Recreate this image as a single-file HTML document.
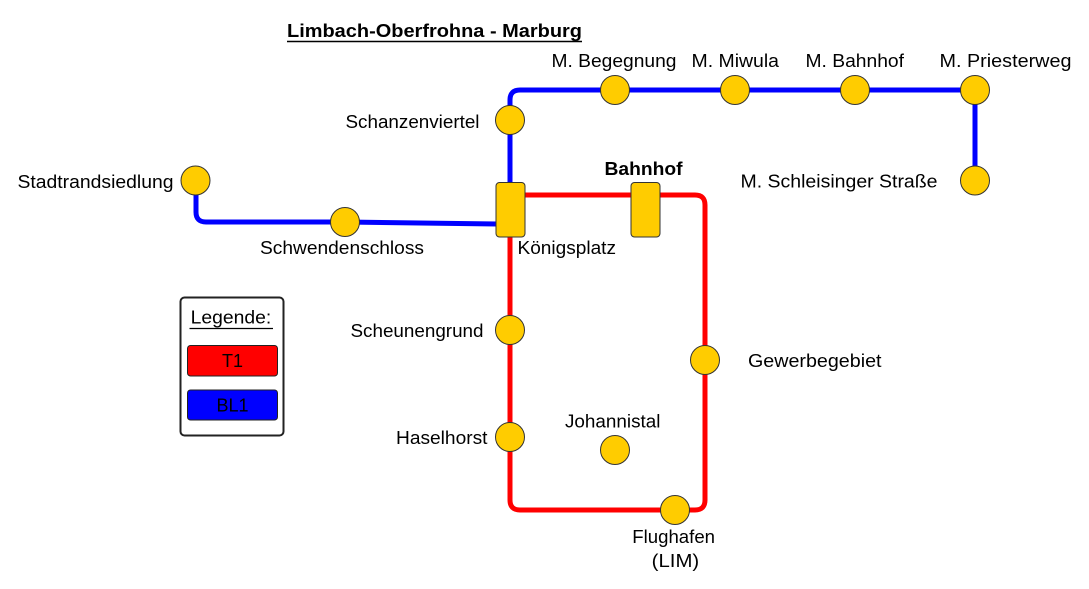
<!DOCTYPE html>
<html><head><meta charset="utf-8"><style>
html,body{margin:0;padding:0;background:#fff;}
svg{display:block;}
text{font-family:"Liberation Sans",Arial,sans-serif;font-size:18px;fill:#000;}
</style></head><body>
<svg width="1089" height="589" viewBox="0 0 1089 589" xmlns="http://www.w3.org/2000/svg">
<rect width="1089" height="589" fill="#fff"/>
<!-- title -->
<text x="287" y="37" font-weight="bold" textLength="295" lengthAdjust="spacingAndGlyphs">Limbach-Oberfrohna - Marburg</text>
<line x1="287" y1="41.5" x2="582" y2="41.5" stroke="#000" stroke-width="1.6"/>

<!-- blue line -->
<path d="M196 180 L196 212 Q196 222 206 222 L345 222 L497 224" fill="none" stroke="#0000ff" stroke-width="5"/>
<path d="M510 183 L510 100 Q510 90 520 90 L975 90 L975 180" fill="none" stroke="#0000ff" stroke-width="5"/>

<!-- red line -->
<path d="M524 195 L695 195 Q705 195 705 205 L705 500 Q705 510 695 510 L520 510 Q510 510 510 500 L510 236" fill="none" stroke="#ff0000" stroke-width="5"/>

<!-- stations -->
<g fill="#ffcc00" stroke="#333" stroke-width="1">
<circle cx="195.5" cy="180.5" r="14.5"/>
<circle cx="345" cy="222" r="14.5"/>
<circle cx="510" cy="120" r="14.5"/>
<circle cx="615" cy="90" r="14.5"/>
<circle cx="735" cy="90" r="14.5"/>
<circle cx="855" cy="90" r="14.5"/>
<circle cx="975" cy="90" r="14.5"/>
<circle cx="975" cy="180.5" r="14.5"/>
<circle cx="510" cy="330" r="14.5"/>
<circle cx="510" cy="437" r="14.5"/>
<circle cx="705" cy="360" r="14.5"/>
<circle cx="615" cy="450" r="14.5"/>
<circle cx="675" cy="510" r="14.5"/>
<rect x="496" y="182.5" width="29" height="54.5" rx="3.5"/>
<rect x="631" y="182.5" width="29" height="54.5" rx="3.5"/>
</g>

<!-- labels -->
<text x="551.5" y="67" textLength="125" lengthAdjust="spacingAndGlyphs">M. Begegnung</text>
<text x="691.5" y="67" textLength="87.5" lengthAdjust="spacingAndGlyphs">M. Miwula</text>
<text x="805.5" y="67" textLength="98.5" lengthAdjust="spacingAndGlyphs">M. Bahnhof</text>
<text x="939.5" y="67" textLength="132" lengthAdjust="spacingAndGlyphs">M. Priesterweg</text>
<text x="740.5" y="187.5" textLength="197" lengthAdjust="spacingAndGlyphs">M. Schleisinger Straße</text>
<text x="345.5" y="128" textLength="134" lengthAdjust="spacingAndGlyphs">Schanzenviertel</text>
<text x="17.5" y="188" textLength="156" lengthAdjust="spacingAndGlyphs">Stadtrandsiedlung</text>
<text x="260" y="254" textLength="164" lengthAdjust="spacingAndGlyphs">Schwendenschloss</text>
<text x="517.5" y="254" textLength="98.5" lengthAdjust="spacingAndGlyphs">Königsplatz</text>
<text x="604.5" y="175" font-weight="bold" textLength="78" lengthAdjust="spacingAndGlyphs">Bahnhof</text>
<text x="350.5" y="337" textLength="133" lengthAdjust="spacingAndGlyphs">Scheunengrund</text>
<text x="396" y="444" textLength="91.5" lengthAdjust="spacingAndGlyphs">Haselhorst</text>
<text x="748" y="367" textLength="133.5" lengthAdjust="spacingAndGlyphs">Gewerbegebiet</text>
<text x="565" y="427.5" textLength="95.5" lengthAdjust="spacingAndGlyphs">Johannistal</text>
<text x="632.3" y="543" textLength="82.7" lengthAdjust="spacingAndGlyphs">Flughafen</text>
<text x="651.7" y="567" textLength="47.5" lengthAdjust="spacingAndGlyphs">(LIM)</text>

<!-- legend -->
<rect x="180.5" y="297.5" width="103" height="138" rx="4" fill="#fff" stroke="#222" stroke-width="2"/>
<text x="190.7" y="323.5" font-size="17" textLength="80.6" lengthAdjust="spacingAndGlyphs">Legende:</text>
<line x1="189.5" y1="328.5" x2="273" y2="328.5" stroke="#000" stroke-width="1.3"/>
<rect x="187.5" y="345.5" width="90" height="30.5" rx="3" fill="#ff0000" stroke="#222" stroke-width="1"/>
<text x="232.5" y="367" font-size="17" text-anchor="middle">T1</text>
<rect x="187.5" y="390" width="90" height="30" rx="3" fill="#0000ff" stroke="#222" stroke-width="1"/>
<text x="232.5" y="411.5" font-size="17" text-anchor="middle">BL1</text>
</svg>
</body></html>
